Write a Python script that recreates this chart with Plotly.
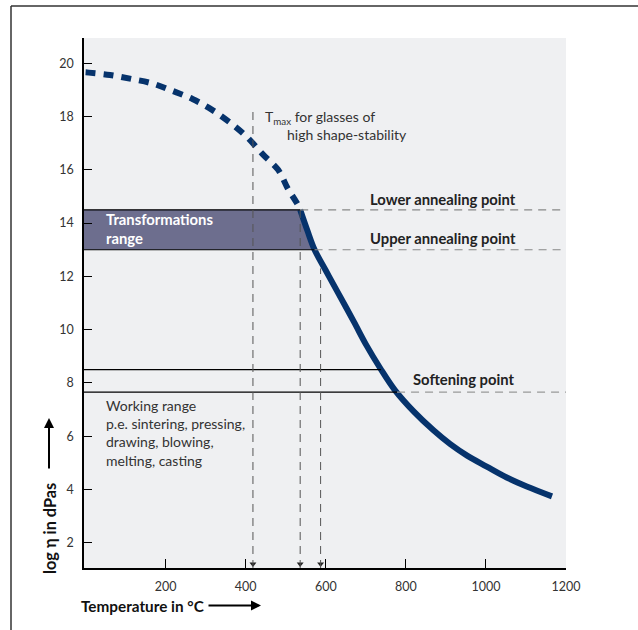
import plotly.graph_objects as go

# ---- data ----
T_dashed = [0, 8, 61, 115, 165, 216, 267, 316, 363, 402, 444, 481, 505, 527, 536]
eta_dashed = [19.66, 19.65, 19.56, 19.41, 19.25, 18.97, 18.66, 18.25, 17.75, 17.25, 16.56, 16.0, 15.3, 14.77, 14.5]

T_solid = [536, 554, 572, 600, 630, 670, 702, 736, 773, 820, 869, 911, 953, 1002, 1052, 1102, 1165]
eta_solid = [14.5, 13.72, 13.0, 12.22, 11.4, 10.3, 9.4, 8.55, 7.72, 6.92, 6.22, 5.7, 5.27, 4.86, 4.45, 4.11, 3.74]

x_ticks = [200, 400, 600, 800, 1000, 1200]
y_ticks = [2, 4, 6, 8, 10, 12, 14, 16, 18, 20]

lower_annealing = 14.5   # log eta
upper_annealing = 13.0
working_top = 8.5
softening = 7.65

T_lower = 536    # temperature where curve meets lower annealing point
T_upper = 572    # curve meets upper annealing point
T_work_top = 738
T_soft = 778
T_max = 418      # T_max for glasses of high shape-stability
T_third = 587
T_max_top = 18.35
T_third_top = 12.3

x_range = [-4, 1200]
y_range = [1.05, 20.95]

FONT = "Lato"
NAVY = "#06336c"
SHADE = "#6d6e8e"

# plot area in page pixels
L, T, W, H = 84, 38, 482, 530

def px(xp):
    return (xp - L) / W

def py(yp):
    return (T + H - yp) / H

fig = go.Figure()

# transformation range shading
fig.add_trace(go.Scatter(
    x=[x_range[0], T_lower, T_upper, x_range[0], x_range[0]],
    y=[lower_annealing, lower_annealing, upper_annealing, upper_annealing, lower_annealing],
    fill="toself", fillcolor=SHADE, line=dict(width=0), mode="lines",
    hoverinfo="skip", showlegend=False))

shapes = []
def hline(y, x0, x1, color, dash, width=1.2):
    shapes.append(dict(type="line", xref="x", yref="y", x0=x0, x1=x1, y0=y, y1=y,
                       line=dict(color=color, width=width, dash=dash), layer="above"))

def vline(x, y0, y1):
    shapes.append(dict(type="line", xref="x", yref="y", x0=x, x1=x, y0=y0, y1=y1,
                       line=dict(color="#555555", width=1, dash="8px,6px"), layer="above"))

hline(lower_annealing, x_range[0], T_lower, "black", "solid")
hline(lower_annealing, T_lower, x_range[1], "#888888", "8px,6px")
hline(upper_annealing, x_range[0], T_upper, "black", "solid")
hline(upper_annealing, T_upper, x_range[1], "#888888", "8px,6px")
hline(working_top, x_range[0], T_work_top, "black", "solid")
hline(softening, x_range[0], T_soft, "black", "solid")
hline(softening, T_soft, x_range[1], "#999999", "8px,6px")

vline(T_max, y_range[0], T_max_top)
vline(T_lower, y_range[0], lower_annealing)
vline(T_third, y_range[0], T_third_top)

# frame around the figure (top and left edges visible)
shapes.append(dict(type="line", xref="paper", yref="paper",
                   x0=px(11), x1=1.4, y0=py(6), y1=py(6),
                   line=dict(color="#333333", width=1.5), layer="above"))
shapes.append(dict(type="line", xref="paper", yref="paper",
                   x0=px(11), x1=px(11), y0=-0.4, y1=py(6),
                   line=dict(color="#333333", width=1.5), layer="above"))

# arrow heads at the bottom of the vertical lines
fig.add_trace(go.Scatter(
    x=[T_max, T_lower, T_third], y=[1.2, 1.2, 1.2], mode="markers",
    marker=dict(symbol="triangle-down", size=6, color="#222222"),
    hoverinfo="skip", showlegend=False, cliponaxis=False))

# viscosity curve
fig.add_trace(go.Scatter(x=T_dashed, y=eta_dashed, mode="lines",
                         line=dict(color=NAVY, width=6, dash="10px,8px", shape="spline"),
                         hoverinfo="skip", showlegend=False))
fig.add_trace(go.Scatter(x=T_solid, y=eta_solid, mode="lines",
                         line=dict(color=NAVY, width=6, shape="spline", smoothing=1.0),
                         hoverinfo="skip", showlegend=False))

ann = []
txt = dict(family=FONT, size=14, color="#333333")
btxt = dict(family=FONT, size=14.8, color="#222222")

ann.append(dict(x=443, y=17.98, xref="x", yref="y", xanchor="left", yanchor="middle",
                text="T<sub>max</sub> for glasses of", showarrow=False, font=txt))
ann.append(dict(x=498, y=17.33, xref="x", yref="y", xanchor="left", yanchor="middle",
                text="high shape-stability", showarrow=False, font=txt))
ann.append(dict(x=46, y=13.78, xref="x", yref="y", xanchor="left", yanchor="middle",
                align="left", text="<b>Transformations<br>range</b>", showarrow=False,
                font=dict(family=FONT, size=14.8, color="white")))
ann.append(dict(x=1079, y=14.9, xref="x", yref="y", xanchor="right", yanchor="middle",
                text="<b>Lower annealing point</b>", showarrow=False, font=btxt))
ann.append(dict(x=1079, y=13.45, xref="x", yref="y", xanchor="right", yanchor="middle",
                text="<b>Upper annealing point</b>", showarrow=False, font=btxt))
ann.append(dict(x=1074, y=8.15, xref="x", yref="y", xanchor="right", yanchor="middle",
                text="<b>Softening point</b>", showarrow=False, font=btxt))
ann.append(dict(x=46, y=6.11, xref="x", yref="y", xanchor="left", yanchor="middle",
                align="left",
                text="Working range<br>p.e. sintering, pressing,<br>drawing, blowing,<br>melting, casting",
                showarrow=False, font=txt))

# axis titles with arrows
ann.append(dict(x=px(49), y=py(529), xref="paper", yref="paper",
                xanchor="center", yanchor="middle",
                text="<b>log η in dPas</b>", textangle=-90, showarrow=False,
                font=dict(family=FONT, size=16.3, color="#111111")))
ann.append(dict(x=px(49), y=py(418), xref="paper", yref="paper",
                ax=0, ay=52, text="", showarrow=True, arrowhead=2, arrowsize=1,
                arrowwidth=2, arrowcolor="black"))
ann.append(dict(x=px(142.5), y=py(605.5), xref="paper", yref="paper",
                xanchor="center", yanchor="middle",
                text="<b>Temperature in °C</b>", showarrow=False,
                font=dict(family=FONT, size=15.3, color="#111111")))
ann.append(dict(x=px(261), y=py(605.5), xref="paper", yref="paper",
                ax=-54, ay=0, text="", showarrow=True, arrowhead=2, arrowsize=1,
                arrowwidth=2, arrowcolor="black"))

fig.update_layout(
    width=638, height=630,
    margin=dict(l=L, r=638 - L - W, t=T, b=630 - T - H),
    paper_bgcolor="white", plot_bgcolor="#eff0f2",
    shapes=shapes, annotations=ann,
    font=dict(family=FONT, size=12, color="#333333"),
    xaxis=dict(range=x_range, tickvals=x_ticks, ticks="inside", ticklen=9,
               tickcolor="black", tickwidth=1.2, showgrid=False, zeroline=False,
               showline=True, linecolor="black", linewidth=1.5,
               tickfont=dict(family=FONT, size=12.5, color="#333333"),
               ticklabelstandoff=6),
    yaxis=dict(range=y_range, tickvals=y_ticks, ticks="inside", ticklen=8,
               tickcolor="black", tickwidth=1.2, showgrid=False, zeroline=False,
               showline=True, linecolor="black", linewidth=1.5,
               tickfont=dict(family=FONT, size=12.5, color="#333333"),
               ticklabelstandoff=6),
)

fig.write_html("out.html", config={"displayModeBar": False},
               post_script="document.body.style.margin='0px';")
